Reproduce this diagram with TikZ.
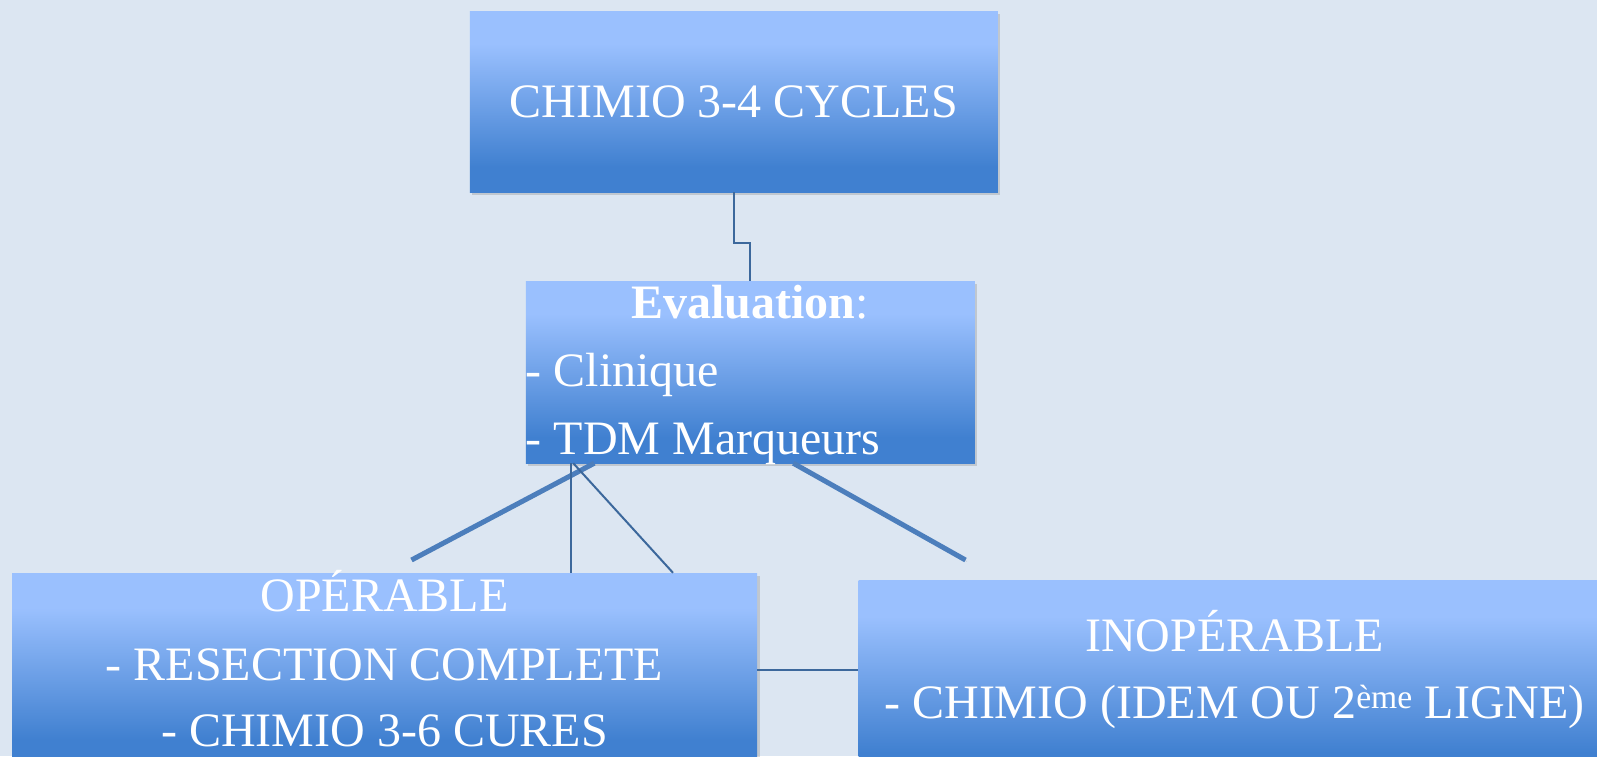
\documentclass[tikz,border=0pt]{standalone}
\usepackage{fontspec}
\setmainfont{Liberation Serif}
\usetikzlibrary{shadows}

\definecolor{pagebg}{HTML}{DCE6F2}
\definecolor{boxtop}{HTML}{9AC0FE}
\definecolor{boxbot}{HTML}{4080D0}
\definecolor{linkthin}{HTML}{3C689C}
\definecolor{linkthick}{HTML}{4C7EBC}
\pgfdeclareverticalshading{boxshade}{100bp}{color(0bp)=(boxbot); color(32bp)=(boxbot); color(66bp)=(boxtop); color(100bp)=(boxtop)}

\tikzset{
  box/.style={shading=boxshade, inner sep=0pt, draw=none,
    drop shadow={shadow xshift=2.5pt, shadow yshift=-2.5pt, opacity=0.3}},
  boxtext/.style={text=white, inner sep=0pt, font=\fontsize{48}{68}\selectfont},
  thinlink/.style={draw=linkthin, line width=2pt},
  thicklink/.style={draw=linkthick, line width=5pt,
    preaction={draw=black, opacity=0.15, transform canvas={shift={(1.5pt,-1.5pt)}}}}
}

\begin{document}
\begin{tikzpicture}[x=1pt,y=-1pt]
	\useasboundingbox[fill=pagebg] (0,0) rectangle (1597,756);

	% boxes
	\node[box, minimum width=528pt, minimum height=181pt] (top) at (733.75,101.75) {};
	\node[box, minimum width=449pt, minimum height=182pt] (eval) at (750.25,372) {};
	\node[box, minimum width=745pt, minimum height=194pt] (op) at (384.5,670) {};
	\node[box, minimum width=752pt, minimum height=200pt] (inop) at (1234.5,680.5) {};

	% texts
	\node[boxtext, anchor=base] (toptext) at (top.north |- 0,117) {CHIMIO 3-4 CYCLES};
	\node[boxtext, anchor=base] (evaltitle) at (eval.north |- 0,318) {\textbf{Evaluation}:};
	\node[boxtext, anchor=base west] (evalclin) at (eval.west |- 0,386) {- Clinique};
	\node[boxtext, anchor=base west] (evaltdm) at (eval.west |- 0,454) {- TDM Marqueurs};
	\node[boxtext, anchor=base] (optitle) at (op.north |- 0,611) {OPÉRABLE};
	\node[boxtext, anchor=base] (opres) at (op.north |- 0,680) {- RESECTION COMPLETE};
	\node[boxtext, anchor=base] (opchim) at (op.north |- 0,746) {- CHIMIO 3-6 CURES};
	\node[boxtext, anchor=base] (inoptitle) at (inop.north |- 0,651) {INOPÉRABLE};
	\node[boxtext, anchor=base] (inopchim) at (inop.north |- 0,718) {- CHIMIO (IDEM OU 2\textsuperscript{ème} LIGNE)};

	% free ends of the thick strokes
	\coordinate (leftend) at (411.5,560);
	\coordinate (rightend) at (965.5,560);

	% connectors
	\draw[thinlink] (top.south) -- ++(0,51) -| (eval.north);
	\draw[thicklink] ([xshift=-156pt]eval.south) -- (leftend);
	\draw[thicklink] ([xshift=43pt]eval.south) -- (rightend);
	\draw[thinlink] ([xshift=-179pt]eval.south) -- ([xshift=-179pt]eval.south |- op.north);
	\draw[thinlink] ([xshift=-177pt]eval.south) -- ([xshift=288.5pt]op.north);
	\draw[thinlink] (op.east) -- (op.east -| inop.west);
\end{tikzpicture}
\end{document}
